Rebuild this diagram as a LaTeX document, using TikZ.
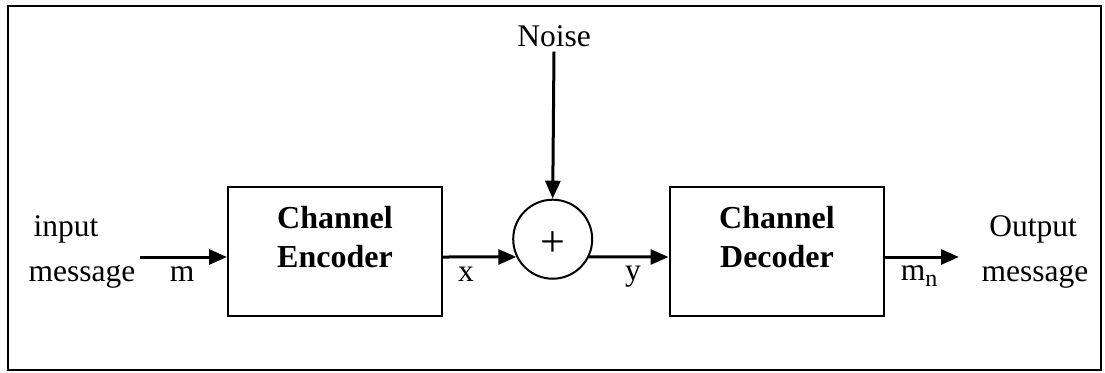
\documentclass[tikz,border=0pt]{standalone}
\usepackage{fontspec}
\setmainfont{Liberation Serif}
\usetikzlibrary{arrows.meta}
\begin{document}
\begin{tikzpicture}[x=1pt,y=-1pt,
  frame/.style={draw, line width=2pt},
  box/.style={draw, line width=2pt, minimum width=214pt, minimum height=129pt, inner sep=0pt},
  lbl/.style={font=\fontsize{31.5}{40}\selectfont, anchor=base, inner sep=0pt},
  blbl/.style={font=\fontsize{32}{40}\selectfont\bfseries, anchor=base, inner sep=0pt},
  flow/.style={line width=3pt, -{Triangle[length=18pt,width=15pt]}}]
\useasboundingbox (0,0) rectangle (1105,372);
\draw[frame] (8,6) rectangle (1101,370);
% blocks
\node[box] (enc) at (335,251.5) {};
\node[box] (dec) at (776.5,251.5) {};
\node[draw, circle, line width=2pt, minimum size=79pt, inner sep=0pt] (sum) at (552.7,239.2) {};
\node[anchor=base, inner sep=0pt, font=\fontsize{44}{44}\selectfont] (plus) at (552.7,256.5) {+};
\node[blbl] (enc1) at (335,228) {Channel};
\node[blbl] (enc2) at (335,267) {Encoder};
\node[blbl] (dec1) at (777,228) {Channel};
\node[blbl] (dec2) at (777,267) {Decoder};
% labels
\node[lbl] (inp1) at (66,236) {input};
\node[lbl] (inp2) at (82,281) {message};
\node[lbl] (lm) at (182,281) {m};
\node[lbl] (lx) at (466,281) {x};
\node[lbl] (ly) at (633,280) {y};
\node[lbl] (lmn) at (919,280) {m\raisebox{-6pt}{\fontsize{24}{24}\selectfont n}};
\node[lbl] (out1) at (1033,236) {Output};
\node[lbl] (out2) at (1035,281) {message};
\node[lbl] (noise) at (554,46) {Noise};
% connectors
\coordinate (in) at (140,257);
\coordinate (out) at (959,257);
\draw[flow] (in) -- (in -| enc.west);
\draw[flow] (in -| enc.east) -- (sum.206.6);
\draw[flow] (sum.-26.6) -- (in -| dec.west);
\draw[flow] (in -| dec.east) -- (out);
\draw[flow] ([yshift=-5pt]noise.south) -- (sum.north);
\end{tikzpicture}
\end{document}
